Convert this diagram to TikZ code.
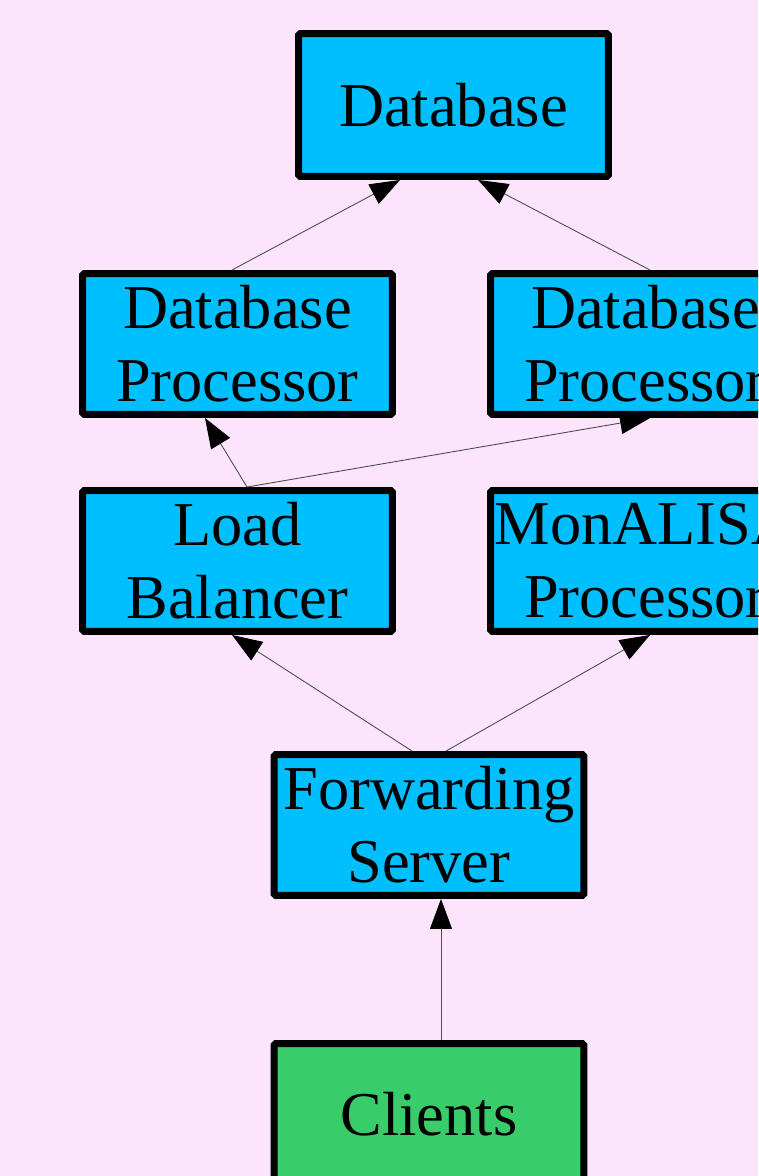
\documentclass[tikz,border=0pt]{standalone}
\usepackage{fontspec}
\setmainfont{Liberation Serif}
\usepackage{tikz}
\usetikzlibrary{arrows.meta,calc}
\definecolor{bgpink}{RGB}{252,229,252}
\definecolor{skyfill}{RGB}{0,191,255}
\definecolor{clientgreen}{RGB}{56,204,106}

\begin{document}
\begin{tikzpicture}[x=0.02cm,y=-0.02cm,
  box/.style={draw=black,line width=0.14cm,rounded corners=1pt,fill=skyfill,
    align=center,inner sep=0pt,minimum width=6.2cm,minimum height=2.82cm,
    font=\fontsize{35.5}{41.5}\selectfont},
  flow/.style={-{Triangle[length=0.6cm,width=0.44cm,color=black]},
    line width=0.5pt,draw=black!70}]
\useasboundingbox (0,0) rectangle (758,1176);
\fill[bgpink] (0,0) rectangle (758,1176);
\clip (0,0) rectangle (758,1176);
\node[box,minimum height=2.86cm] (db) at (453.5,105) {Database};
\node[box] (dbpl) at (237.5,344) {Database\\Processor};
\node[box] (dbpr) at (645.5,344) {Database\\Processor};
\node[box] (lb) at (237.5,561) {Load\\Balancer};
\node[box] (mona) at (645.5,561) {MonALISA\\Processor};
\node[box] (fwd) at (429,825) {Forwarding\\Server};
\node[box,fill=clientgreen] (clients) at (429,1114) {Clients};
\draw[flow] ($(dbpl.north)+(-5.5,0)$) -- ($(db.south)+(-53.5,0)$);
\draw[flow] ($(dbpr.north)+(4.5,0)$) -- ($(db.south)+(24.5,0)$);
\draw[flow] ($(lb.north)+(9.5,0)$) -- ($(dbpl.south)+(-32.5,0)$);
\draw[flow] ($(lb.north)+(9.5,0)$) -- ($(dbpr.south)+(4.5,0)$);
\draw[flow] ($(fwd.north)+(-17,0)$) -- ($(lb.south)+(-5.5,0)$);
\draw[flow] ($(fwd.north)+(17,0)$) -- ($(mona.south)+(4.5,0)$);
\draw[flow] ($(clients.north)+(12,0)$) -- ($(fwd.south)+(12,0)$);
\end{tikzpicture}
\end{document}
